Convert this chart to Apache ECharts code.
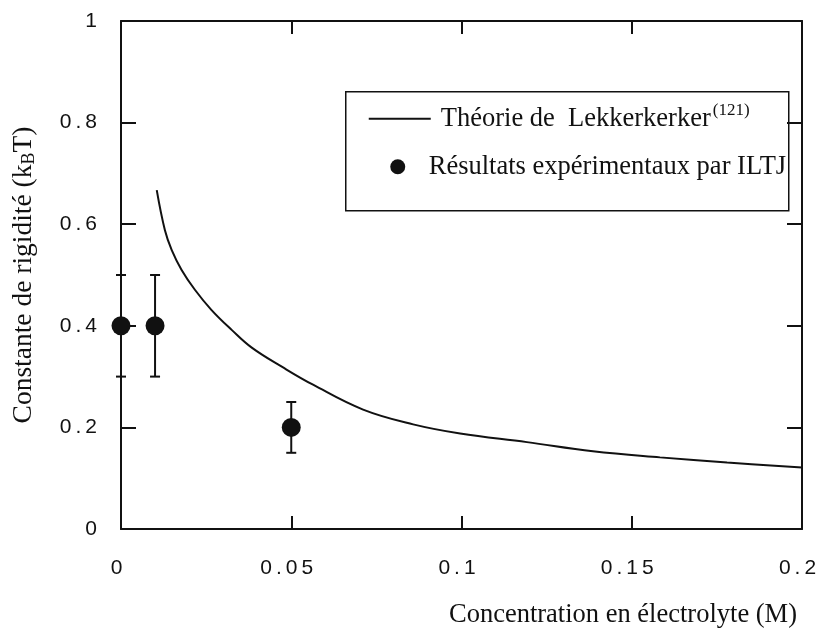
<!DOCTYPE html>
<html>
<head>
<meta charset="utf-8">
<script src="https://cdn.jsdelivr.net/npm/echarts@6/dist/echarts.min.js"></script>
<style>
  html, body { margin: 0; padding: 0; background: #fff; }
  #chart { width: 821px; height: 629px; }
</style>
</head>
<body>
<div id="chart"></div>
<script>
// Tick values of both axes
const xTicks = [0, 0.05, 0.1, 0.15, 0.2];
const yTicks = [0, 0.2, 0.4, 0.6, 0.8, 1];

// Experimental points (ILTJ) with their error bars
const expConc = [0, 0.01, 0.05];
const expRigidity = [0.4, 0.4, 0.2];
const expLow = [0.3, 0.3, 0.15];
const expHigh = [0.5, 0.5, 0.25];

// Lekkerkerker theory curve
const theoryConc = [0.0105, 0.0129, 0.0149, 0.0178, 0.0217, 0.0266, 0.0325, 0.0384, 0.0476, 0.0564, 0.0711, 0.0858, 0.0996, 0.1192, 0.1386, 0.1583, 0.178, 0.2];
const theoryRigidity = [0.667, 0.588, 0.549, 0.510, 0.471, 0.431, 0.392, 0.357, 0.318, 0.284, 0.235, 0.206, 0.188, 0.171, 0.153, 0.141, 0.131, 0.121];

const serif = '"Liberation Serif", "DejaVu Serif", serif';
const sans = '"Liberation Sans", Arial, sans-serif';
const ink = '#111';

const chart = echarts.init(document.getElementById('chart'), null, { renderer: 'canvas' });

const xStep = xTicks[1] - xTicks[0];
const yStep = yTicks[1] - yTicks[0];

// Tick labels are drawn character by character to get the wide, spaced digits
const spaced = (s) => s.split('').map((ch) => '{d|' + ch + '}').join('');
const digitRich = { d: { fontFamily: sans, fontSize: 21, color: ink, padding: [0, 2, 0, 2] } };

const frameAxisX = (pos) => ({
  type: 'value',
  position: pos,
  min: xTicks[0],
  max: xTicks[xTicks.length - 1],
  interval: xStep,
  axisLine: { show: true, onZero: false, lineStyle: { color: ink, width: 2 } },
  axisTick: { show: true, inside: true, length: 13, lineStyle: { color: ink, width: 2 } },
  splitLine: { show: false },
  axisLabel: { show: false }
});
const frameAxisY = (pos) => ({
  type: 'value',
  position: pos,
  min: yTicks[0],
  max: yTicks[yTicks.length - 1],
  interval: yStep,
  axisLine: { show: true, onZero: false, lineStyle: { color: ink, width: 2 } },
  axisTick: { show: true, inside: true, length: 15, lineStyle: { color: ink, width: 2 } },
  splitLine: { show: false },
  axisLabel: { show: false }
});

const xMain = frameAxisX('bottom');
xMain.axisLabel = {
  show: true, margin: 29, color: ink, padding: [0, 9, 0, 0],
  formatter: (v) => spaced(String(+v.toFixed(2))),
  rich: digitRich
};
xMain.name = 'Concentration en électrolyte (M)';
xMain.nameLocation = 'end';
xMain.nameGap = -5;
xMain.nameTextStyle = {
  fontFamily: serif, fontSize: 26.5, color: ink,
  align: 'right', verticalAlign: 'top', padding: [73, 0, 0, 0]
};

const yMain = frameAxisY('left');
yMain.axisLabel = {
  show: true, margin: 22, color: ink,
  formatter: (v) => spaced(String(+v.toFixed(1))),
  rich: digitRich
};
yMain.name = '{t|Constante de rigidité (k}{s|B}{t|T)}';
yMain.nameLocation = 'middle';
yMain.nameGap = 83;
yMain.nameTextStyle = {
  rich: {
    t: { fontFamily: serif, fontSize: 27.5, color: ink },
    s: { fontFamily: serif, fontSize: 18, color: ink, padding: [11, 0, 0, 0] }
  }
};

const option = {
  backgroundColor: '#fff',
  animation: false,
  grid: { left: 121, right: 19, top: 21, bottom: 99 },
  xAxis: [xMain, frameAxisX('top')],
  yAxis: [yMain, frameAxisY('right')],
  series: [
    {
      name: 'Théorie de Lekkerkerker',
      type: 'line',
      smooth: 0.4,
      showSymbol: false,
      lineStyle: { color: ink, width: 2 },
      data: theoryConc.map((c, i) => [c, theoryRigidity[i]]),
      z: 3
    },
    {
      name: 'error bars',
      type: 'custom',
      data: expConc.map((c, i) => [c, expLow[i], expHigh[i]]),
      renderItem: (params, api) => {
        const lo = api.coord([api.value(0), api.value(1)]);
        const hi = api.coord([api.value(0), api.value(2)]);
        const cap = 5;
        const style = { stroke: ink, lineWidth: 2 };
        return {
          type: 'group',
          children: [
            { type: 'line', shape: { x1: lo[0], y1: lo[1], x2: hi[0], y2: hi[1] }, style },
            { type: 'line', shape: { x1: lo[0] - cap, y1: lo[1], x2: lo[0] + cap, y2: lo[1] }, style },
            { type: 'line', shape: { x1: hi[0] - cap, y1: hi[1], x2: hi[0] + cap, y2: hi[1] }, style }
          ]
        };
      },
      z: 4
    },
    {
      name: 'Résultats expérimentaux par ILTJ',
      type: 'scatter',
      symbol: 'circle',
      symbolSize: 19,
      itemStyle: { color: ink, opacity: 1 },
      data: expConc.map((c, i) => [c, expRigidity[i]]),
      z: 5
    }
  ],
  graphic: [
    {
      type: 'group',
      left: 345,
      top: 91,
      children: [
        { type: 'rect', shape: { x: 0, y: 0, width: 443, height: 119 },
          style: { fill: '#fff', stroke: ink, lineWidth: 1.5 } },
        { type: 'line', shape: { x1: 23, y1: 27, x2: 85, y2: 27 },
          style: { stroke: ink, lineWidth: 2 } },
        { type: 'text', x: 95, y: 27,
          style: {
            text: '{t|Théorie de  Lekkerkerker}{p|(121)}',
            verticalAlign: 'middle',
            rich: {
              t: { fontFamily: serif, fontSize: 26.5, fill: ink },
              p: { fontFamily: serif, fontSize: 17, fill: ink, padding: [0, 0, 16, 2] }
            }
          } },
        { type: 'circle', shape: { cx: 52, cy: 75, r: 7.5 }, style: { fill: ink } },
        { type: 'text', x: 83, y: 75,
          style: { text: 'Résultats expérimentaux par ILTJ', fontFamily: serif, fontSize: 26.5,
                   fill: ink, verticalAlign: 'middle' } }
      ]
    }
  ]
};

chart.setOption(option);
</script>
</body>
</html>
